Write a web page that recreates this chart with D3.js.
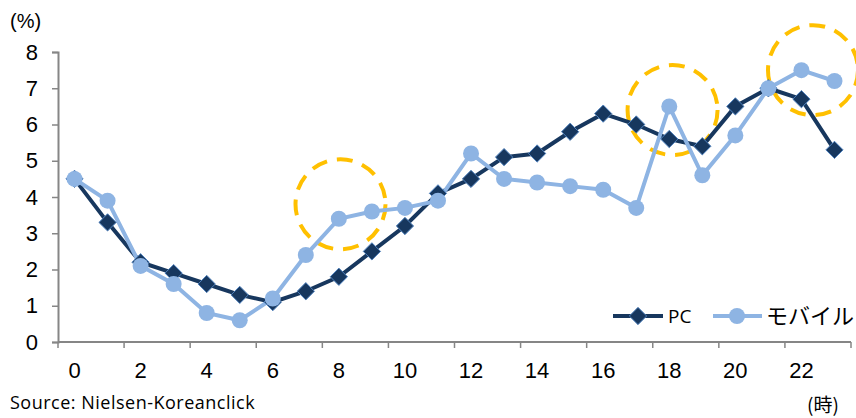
<!DOCTYPE html>
<html>
<head>
<meta charset="utf-8">
<script src="https://cdn.jsdelivr.net/npm/d3@7"></script>
<style>
  body { margin: 0; background: #fff; }
  svg { display: block; }
</style>
</head>
<body>
<svg id="chart" width="856" height="418"></svg>
<script>
// hours 0..23
const hours = d3.range(0, 24);
const pcValues = [4.5, 3.3, 2.2, 1.9, 1.6, 1.3, 1.1, 1.4, 1.8, 2.5, 3.2, 4.1,
                  4.5, 5.1, 5.2, 5.8, 6.3, 6.0, 5.6, 5.4, 6.5, 7.0, 6.7, 5.3];
const mobileValues = [4.5, 3.9, 2.1, 1.6, 0.8, 0.6, 1.2, 2.4, 3.4, 3.6, 3.7, 3.9,
                      5.2, 4.5, 4.4, 4.3, 4.2, 3.7, 6.5, 4.6, 5.7, 7.0, 7.5, 7.2];
const yTicks = [0, 1, 2, 3, 4, 5, 6, 7, 8];
const xLabels = [0, 2, 4, 6, 8, 10, 12, 14, 16, 18, 20, 22];
// highlighted spots (hour, value)
const highlights = [[8.05, 3.8], [18.1, 6.4], [22.35, 7.5]];

const svg = d3.select("#chart");
const mLeft = 58, mRight = 851, mTop = 52, mBottom = 342;

let x = d3.scaleBand().domain(hours).range([mLeft, mRight]);
let xc = h => x(h) + x.bandwidth() / 2;
let xLin = d3.scaleLinear().domain([0, 24]).range([mLeft, mRight]);
let y = d3.scaleLinear().domain([0, 8]).range([mBottom, mTop]);

const axisColor = "#868686";
const font = "'Liberation Sans', Arial, sans-serif";

// y axis
let yAxis = svg.append("g")
    .attr("transform", `translate(${mLeft},0)`)
    .call(d3.axisLeft(y).tickValues(yTicks).tickSize(6).tickPadding(14).tickFormat(d3.format("d")));
yAxis.select(".domain").attr("stroke", axisColor).attr("stroke-width", 2);
yAxis.selectAll(".tick line").attr("stroke", axisColor).attr("stroke-width", 1.5);
yAxis.selectAll(".tick text").attr("fill", "#000").style("font-size", "22px").style("font-family", font);

// x axis: ticks at every 2nd category boundary, labels on category centres
let xAxis = svg.append("g").attr("transform", `translate(0,${mBottom})`);
xAxis.append("line")
    .attr("x1", mLeft).attr("x2", mRight)
    .attr("stroke", axisColor).attr("stroke-width", 2);
xAxis.selectAll(".xt")
    .data(d3.range(0, 25, 2))
    .enter().append("line")
    .attr("x1", d => xLin(d)).attr("x2", d => xLin(d))
    .attr("y1", 0).attr("y2", 6)
    .attr("stroke", axisColor).attr("stroke-width", 1.5);
xAxis.selectAll(".xl")
    .data(xLabels)
    .enter().append("text")
    .attr("x", d => xc(d))
    .attr("y", 36)
    .attr("text-anchor", "middle")
    .style("font-size", "22px")
    .style("font-family", font)
    .text(d => d);

// highlight circles
svg.selectAll(".hl")
    .data(highlights)
    .enter().append("circle")
    .attr("cx", d => xLin(d[0] + 0.5))
    .attr("cy", d => y(d[1]))
    .attr("r", 45)
    .attr("fill", "none")
    .attr("stroke", "#FFC000")
    .attr("stroke-width", 4)
    .attr("stroke-dasharray", "16,10");

// lines
let line = d3.line().x((d, i) => xc(hours[i])).y(d => y(d));

svg.append("path")
    .datum(pcValues)
    .attr("d", line)
    .attr("fill", "none")
    .attr("stroke", "#17375E")
    .attr("stroke-width", 4);

svg.append("path")
    .datum(mobileValues)
    .attr("d", line)
    .attr("fill", "none")
    .attr("stroke", "#8EB4E3")
    .attr("stroke-width", 4);

let diamond = d3.symbol().type(d3.symbolDiamond2).size(190);

svg.selectAll(".pc")
    .data(pcValues)
    .enter().append("path")
    .attr("d", diamond)
    .attr("transform", (d, i) => `translate(${xc(hours[i])},${y(d)})`)
    .attr("fill", "#17375E")
    .attr("stroke", "#4F81BD")
    .attr("stroke-width", 1);

svg.selectAll(".mob")
    .data(mobileValues)
    .enter().append("circle")
    .attr("cx", (d, i) => xc(hours[i]))
    .attr("cy", d => y(d))
    .attr("r", 8)
    .attr("fill", "#8EB4E3");

// legend
let lg = svg.append("g").attr("transform", "translate(0,316)");
lg.append("line").attr("x1", 613).attr("x2", 663).attr("stroke", "#17375E").attr("stroke-width", 4);
lg.append("path").attr("d", diamond).attr("transform", "translate(638,0)")
    .attr("fill", "#17375E").attr("stroke", "#4F81BD");
lg.append("text").attr("x", 668).attr("y", 7).style("font-size", "19px")
    .style("font-family", "'Open Sans', sans-serif").text("PC");
lg.append("line").attr("x1", 713).attr("x2", 762).attr("stroke", "#8EB4E3").attr("stroke-width", 4);
lg.append("circle").attr("cx", 737).attr("cy", 0).attr("r", 8).attr("fill", "#8EB4E3");
lg.append("text").attr("x", 766).attr("y", 8).style("font-size", "22px")
    .style("font-family", "'Noto Sans CJK JP', sans-serif").text("モバイル");

// unit labels
svg.append("text").attr("x", 10).attr("y", 28).style("font-size", "20px")
    .style("font-family", font).text("(%)");
svg.append("text").attr("x", 807).attr("y", 412).style("font-size", "19px")
    .style("font-family", "'Noto Sans CJK JP', sans-serif").text("(時)");

// source
svg.append("text").attr("x", 10).attr("y", 409).style("font-size", "18px")
    .style("letter-spacing", "0.5px")
    .style("font-family", "'Open Sans', sans-serif").text("Source: Nielsen-Koreanclick");
</script>
</body>
</html>
